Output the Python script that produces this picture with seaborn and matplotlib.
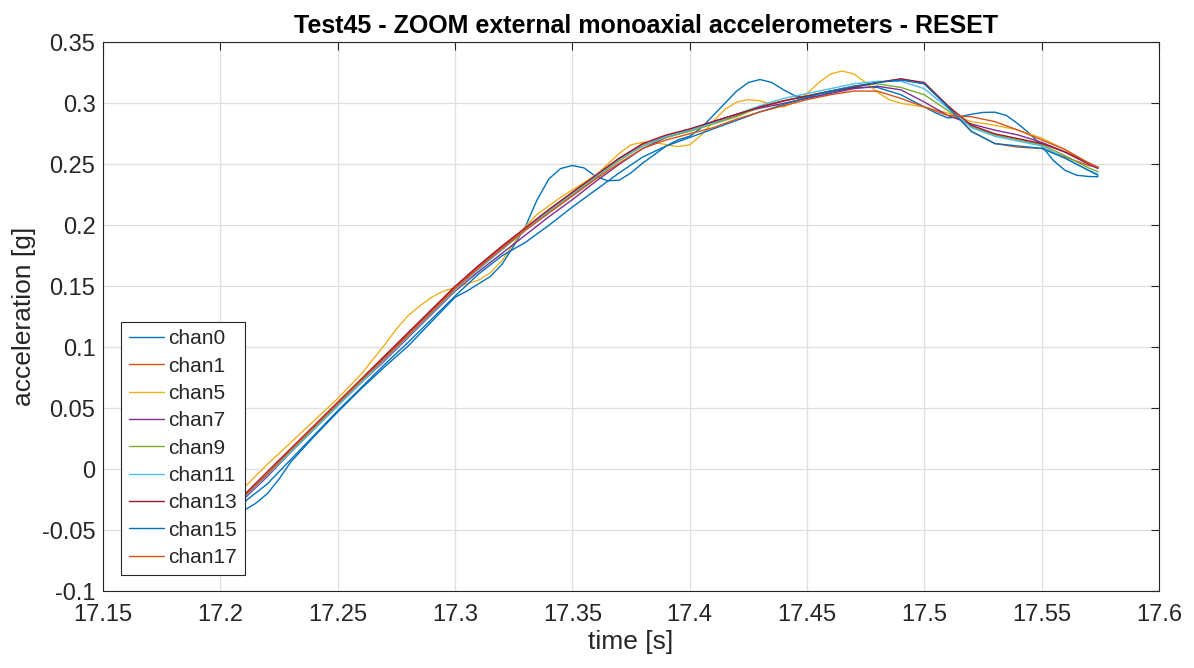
import pandas as pd
import matplotlib
matplotlib.use("Agg")
import matplotlib.pyplot as plt
import seaborn as sns

# Datos (tiempo en s, aceleracion en g)
tiempo = [17.208, 17.22, 17.23, 17.24, 17.25, 17.26, 17.27, 17.28, 17.29, 17.30,
          17.31, 17.32, 17.33, 17.34, 17.35, 17.36, 17.37, 17.38, 17.39, 17.40,
          17.41, 17.42, 17.43, 17.44, 17.45, 17.46, 17.47, 17.48, 17.49, 17.50,
          17.51, 17.52, 17.53, 17.54, 17.55, 17.56, 17.57, 17.574]

# chan0 y chan5 oscilan mas, se leen con mas puntos
tiempo_chan0 = [17.208, 17.215, 17.22, 17.225, 17.23, 17.24, 17.25, 17.26, 17.27, 17.28,
                17.29, 17.30, 17.305, 17.31, 17.315, 17.32, 17.325, 17.33, 17.335, 17.34,
                17.345, 17.35, 17.355, 17.36, 17.365, 17.37, 17.375, 17.38, 17.385, 17.39,
                17.395, 17.40, 17.405, 17.41, 17.415, 17.42, 17.425, 17.43, 17.435, 17.44,
                17.445, 17.45, 17.455, 17.46, 17.47, 17.48, 17.49, 17.495, 17.50, 17.505,
                17.51, 17.515, 17.52, 17.525, 17.53, 17.535, 17.54, 17.545, 17.55, 17.555,
                17.56, 17.565, 17.57, 17.574]
chan0 = [-0.036, -0.028, -0.020, -0.008, 0.006, 0.027, 0.047, 0.066, 0.084, 0.101,
         0.121, 0.141, 0.146, 0.152, 0.158, 0.168, 0.183, 0.199, 0.221, 0.238,
         0.2465, 0.249, 0.247, 0.240, 0.2365, 0.237, 0.243, 0.251, 0.258, 0.265,
         0.270, 0.273, 0.280, 0.290, 0.300, 0.310, 0.317, 0.3195, 0.317, 0.311,
         0.306, 0.305, 0.306, 0.309, 0.313, 0.313, 0.307, 0.302, 0.297, 0.292,
         0.288, 0.289, 0.291, 0.2925, 0.2927, 0.290, 0.283, 0.275, 0.265, 0.253,
         0.245, 0.241, 0.240, 0.2398]

tiempo_chan5 = [17.208, 17.22, 17.23, 17.24, 17.25, 17.26, 17.27, 17.275, 17.28, 17.285,
                17.29, 17.295, 17.30, 17.305, 17.31, 17.315, 17.32, 17.325, 17.33, 17.335,
                17.34, 17.345, 17.35, 17.355, 17.36, 17.365, 17.37, 17.375, 17.38, 17.385,
                17.39, 17.395, 17.40, 17.405, 17.41, 17.415, 17.42, 17.425, 17.43, 17.435,
                17.44, 17.445, 17.45, 17.455, 17.46, 17.465, 17.47, 17.475, 17.48, 17.485,
                17.49, 17.495, 17.50, 17.51, 17.52, 17.53, 17.54, 17.55, 17.56, 17.57,
                17.574]
chan5 = [-0.019, 0.004, 0.022, 0.040, 0.058, 0.078, 0.102, 0.115, 0.126, 0.134,
         0.141, 0.146, 0.149, 0.152, 0.155, 0.161, 0.171, 0.185, 0.199, 0.209,
         0.216, 0.223, 0.229, 0.235, 0.241, 0.250, 0.259, 0.266, 0.268, 0.268,
         0.266, 0.2645, 0.266, 0.274, 0.285, 0.295, 0.301, 0.303, 0.302, 0.299,
         0.297, 0.301, 0.308, 0.317, 0.324, 0.3265, 0.324, 0.317, 0.309, 0.303,
         0.300, 0.2985, 0.297, 0.292, 0.285, 0.282, 0.278, 0.2715, 0.262, 0.251,
         0.247]

chan1 = [-0.027, -0.004, 0.016, 0.035, 0.054, 0.073, 0.092, 0.111, 0.130, 0.149,
         0.166, 0.182, 0.197, 0.212, 0.227, 0.241, 0.255, 0.266, 0.273, 0.278,
         0.284, 0.290, 0.297, 0.302, 0.306, 0.310, 0.314, 0.317, 0.320, 0.316,
         0.298, 0.277, 0.267, 0.264, 0.263, 0.256, 0.249, 0.2475]
chan7 = [-0.028, -0.006, 0.014, 0.033, 0.052, 0.071, 0.089, 0.108, 0.127, 0.146,
         0.162, 0.177, 0.192, 0.207, 0.221, 0.236, 0.250, 0.263, 0.272, 0.278,
         0.285, 0.291, 0.296, 0.300, 0.304, 0.308, 0.312, 0.314, 0.311, 0.301,
         0.290, 0.283, 0.278, 0.274, 0.268, 0.260, 0.250, 0.2465]
chan9 = [-0.026, -0.004, 0.015, 0.034, 0.053, 0.072, 0.090, 0.109, 0.128, 0.147,
         0.164, 0.180, 0.196, 0.211, 0.225, 0.239, 0.253, 0.265, 0.272, 0.277,
         0.283, 0.289, 0.297, 0.302, 0.306, 0.310, 0.314, 0.316, 0.313, 0.307,
         0.294, 0.281, 0.274, 0.270, 0.266, 0.257, 0.247, 0.244]
chan11 = [-0.027, -0.005, 0.014, 0.033, 0.052, 0.071, 0.090, 0.109, 0.128, 0.147,
          0.164, 0.180, 0.196, 0.212, 0.226, 0.240, 0.254, 0.265, 0.273, 0.278,
          0.284, 0.291, 0.298, 0.304, 0.308, 0.312, 0.316, 0.318, 0.318, 0.312,
          0.296, 0.280, 0.273, 0.269, 0.265, 0.255, 0.245, 0.242]
chan13 = [-0.025, -0.002, 0.017, 0.036, 0.055, 0.074, 0.093, 0.112, 0.131, 0.150,
          0.167, 0.183, 0.198, 0.213, 0.227, 0.241, 0.255, 0.267, 0.274, 0.279,
          0.285, 0.291, 0.297, 0.302, 0.306, 0.310, 0.313, 0.317, 0.320, 0.317,
          0.298, 0.282, 0.275, 0.271, 0.267, 0.260, 0.251, 0.2475]
chan15 = [-0.030, -0.012, 0.008, 0.028, 0.048, 0.067, 0.086, 0.104, 0.123, 0.142,
          0.160, 0.175, 0.186, 0.200, 0.215, 0.229, 0.243, 0.256, 0.265, 0.272,
          0.279, 0.286, 0.293, 0.299, 0.305, 0.310, 0.314, 0.317, 0.319, 0.316,
          0.297, 0.277, 0.267, 0.265, 0.263, 0.255, 0.245, 0.241]
chan17 = [-0.026, -0.004, 0.016, 0.035, 0.054, 0.073, 0.091, 0.110, 0.129, 0.148,
          0.165, 0.181, 0.196, 0.210, 0.224, 0.238, 0.251, 0.263, 0.270, 0.275,
          0.280, 0.287, 0.293, 0.298, 0.303, 0.307, 0.310, 0.310, 0.304, 0.297,
          0.290, 0.289, 0.285, 0.278, 0.270, 0.262, 0.251, 0.2475]

canales = ["chan0", "chan1", "chan5", "chan7", "chan9", "chan11", "chan13", "chan15", "chan17"]
series = [chan0, chan1, chan5, chan7, chan9, chan11, chan13, chan15, chan17]
tiempos = [tiempo_chan0, tiempo, tiempo_chan5, tiempo, tiempo, tiempo, tiempo, tiempo, tiempo]

# Colores por defecto de MATLAB
colores = ["#0072BD", "#D95319", "#EDB120", "#7E2F8E", "#77AC30",
           "#4DBEEE", "#A2142F", "#0072BD", "#D95319"]

filas = []
for nombre, ts, valores in zip(canales, tiempos, series):
    for t, v in zip(ts, valores):
        filas.append({"tiempo": t, "aceleracion": v, "canal": nombre})
df = pd.DataFrame(filas)

sns.set_style("white")
plt.rcParams["font.family"] = ["Liberation Sans", "DejaVu Sans"]

fig = plt.figure(figsize=(11.94, 6.68), dpi=100)
ax = fig.add_axes([0.0863, 0.1148, 0.8844, 0.8219])

sns.lineplot(data=df, x="tiempo", y="aceleracion", hue="canal",
             hue_order=canales, palette=colores, linewidth=1.0,
             estimator=None, sort=False, ax=ax)

ax.set_xlim(17.15, 17.6)
ax.set_ylim(-0.1, 0.35)
ax.set_xticks([17.15, 17.2, 17.25, 17.3, 17.35, 17.4, 17.45, 17.5, 17.55, 17.6])
ax.set_xticklabels(["17.15", "17.2", "17.25", "17.3", "17.35", "17.4",
                    "17.45", "17.5", "17.55", "17.6"])
ax.set_yticks([-0.1, -0.05, 0, 0.05, 0.1, 0.15, 0.2, 0.25, 0.3, 0.35])
ax.set_yticklabels(["-0.1", "-0.05", "0", "0.05", "0.1", "0.15",
                    "0.2", "0.25", "0.3", "0.35"])

ax.grid(True, color="#dfdfdf", linewidth=0.9)
ax.set_axisbelow(True)
ax.tick_params(direction="in", length=6, width=0.8, top=True, right=True,
               labelsize=17, colors="#262626")
ax.tick_params(axis="x", pad=9)
ax.tick_params(axis="y", pad=5.5)
for lado in ax.spines.values():
    lado.set_color("#262626")
    lado.set_linewidth(0.8)

ax.set_title("Test45 - ZOOM external monoaxial accelerometers - RESET",
             fontsize=18, fontweight="bold", color="black", pad=7, x=0.514)
ax.set_xlabel("time [s]", fontsize=19, color="#262626", labelpad=3)
ax.set_ylabel("acceleration [g]", fontsize=19, color="#262626", labelpad=4)

leg = ax.legend(loc="lower left", bbox_to_anchor=(0.017, 0.0297), borderaxespad=0,
                fontsize=15, handlelength=1.7, labelspacing=0.4, borderpad=0.38,
                handletextpad=0.2, fancybox=False, framealpha=1,
                edgecolor="#262626")
leg.get_frame().set_linewidth(0.8)

fig.savefig("out.png", dpi=100)
